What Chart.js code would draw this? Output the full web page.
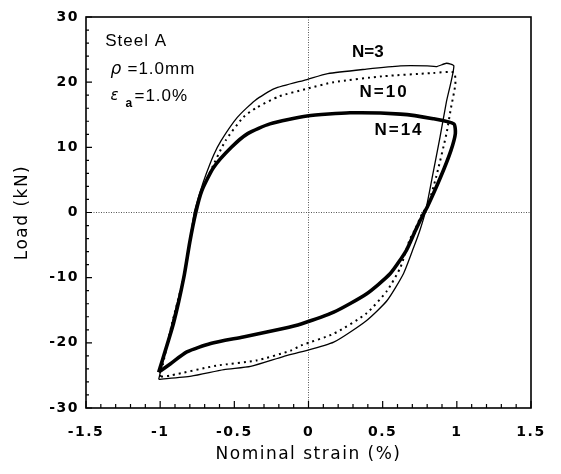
<!DOCTYPE html>
<html>
<head>
<meta charset="utf-8">
<script src="https://cdn.jsdelivr.net/npm/chart.js@4"></script>
<style>
  html, body { margin: 0; padding: 0; background: #fff; }
  #wrap { width: 561px; height: 474px; }
</style>
</head>
<body>
<div id="wrap"><canvas id="myChart"></canvas></div>
<script>
/* data: strain (%) and load (kN) along each loop */
const xTicks = [-1.5, -1, -0.5, 0, 0.5, 1, 1.5];
const yTicks = [-30, -20, -10, 0, 10, 20, 30];

const strainN3 = [-1.01, -0.92, -0.84, -0.80, -0.77, -0.73, -0.69, -0.64, -0.59, -0.48, -0.36, -0.23, -0.01, 0.13, 0.39, 0.62, 0.80, 0.865, 0.93, 0.98,
                  0.93, 0.886, 0.835, 0.79, 0.75, 0.71, 0.64, 0.53, 0.39, 0.17, -0.05, -0.17, -0.39, -0.57, -0.79, -1.01];
const loadN3   = [-25.6, -17, -9.8, -4.5, 0, 3.2, 5.9, 8.8, 11.0, 14.6, 17.2, 19.0, 20.4, 21.3, 22.0, 22.5, 22.5, 22.4, 22.9, 22.5,
                  17.0, 11.5, 5.5, 0.3, -2.8, -5.3, -9.4, -13.5, -16.6, -19.9, -21.4, -22.1, -23.6, -24.1, -25.1, -25.6];

const strainN10 = [-1.00, -0.92, -0.84, -0.80, -0.765, -0.72, -0.67, -0.56, -0.44, -0.35, -0.20, -0.01, 0.17, 0.50, 0.84, 0.98,
                   0.99, 0.96, 0.93, 0.86, 0.80, 0.77, 0.72, 0.68, 0.62, 0.53, 0.39, 0.17, -0.05, -0.12, -0.35, -0.62, -0.93, -1.00];
const loadN10   = [-25.2, -17, -9.8, -4.5, 0, 3.2, 5.9, 11.0, 14.6, 16.1, 17.8, 19.0, 20.0, 20.9, 21.4, 21.5,
                   19.7, 16.0, 12.1, 5.4, 0.8, 0, -2.5, -4.3, -8.4, -12.0, -15.5, -18.6, -20.4, -21.2, -22.7, -23.5, -25.0, -25.2];

const strainN14 = [-1.01, -0.91, -0.84, -0.80, -0.76, -0.72, -0.64, -0.52, -0.41, -0.26, -0.01, 0.28, 0.62, 0.84, 0.98,
                   0.99, 0.96, 0.89, 0.80, 0.78, 0.72, 0.66, 0.55, 0.39, 0.17, -0.05, -0.17, -0.44, -0.66, -0.82, -0.93, -1.01];
const loadN14   = [-24.5, -17, -9.9, -4.5, 0, 3.3, 6.9, 10.0, 12.1, 13.6, 14.8, 15.3, 15.1, 14.4, 13.6,
                   12.1, 9.5, 5.4, 0.8, 0, -2.8, -5.8, -9.4, -12.5, -15.3, -17.1, -17.8, -19.1, -20.1, -21.4, -23.2, -24.5];

function toPoints(xs, ys) {
    return xs.map((x, i) => ({ x: x, y: ys[i] }));
}

/* the old plot software spaces its letters out a little */
const spacingPlugin = {
    id: 'spacing',
    beforeDraw(chart) {
        chart.ctx.letterSpacing = '1.5px';
    }
};

/* frame, inward ticks, dotted zero lines and the text notes */
const framePlugin = {
    id: 'frame',
    beforeDatasetsDraw(chart) {
        const { ctx, chartArea: a, scales: { x, y } } = chart;
        ctx.save();
        ctx.strokeStyle = '#555';
        ctx.lineWidth = 1;
        ctx.setLineDash([1, 1.5]);
        ctx.beginPath();
        ctx.moveTo(x.getPixelForValue(0), a.top);
        ctx.lineTo(x.getPixelForValue(0), a.bottom);
        ctx.moveTo(a.left, y.getPixelForValue(0));
        ctx.lineTo(a.right, y.getPixelForValue(0));
        ctx.stroke();
        ctx.restore();
    },
    afterDatasetsDraw(chart) {
        const { ctx, chartArea: a, scales: { x, y } } = chart;
        ctx.save();
        ctx.strokeStyle = '#000';
        ctx.lineWidth = 1.6;
        ctx.strokeRect(a.left, a.top, a.right - a.left, a.bottom - a.top);
        ctx.lineWidth = 1.2;
        ctx.beginPath();
        for (let i = -15; i <= 15; i++) {
            const px = x.getPixelForValue(i / 10);
            const len = (i % 5 === 0) ? 7 : 4;
            ctx.moveTo(px, a.bottom);
            ctx.lineTo(px, a.bottom - len);
        }
        for (let v = -30; v <= 30; v += 2) {
            const py = y.getPixelForValue(v);
            const len = (v % 10 === 0) ? 6 : 3;
            ctx.moveTo(a.left, py);
            ctx.lineTo(a.left + len, py);
        }
        ctx.stroke();

        ctx.fillStyle = '#000';
        ctx.textBaseline = 'middle';
        ctx.textAlign = 'left';
        ctx.letterSpacing = '1px';
        ctx.font = '17px "Liberation Sans"';
        ctx.fillText('Steel A', x.getPixelForValue(-1.37), y.getPixelForValue(26.2));

        const px = x.getPixelForValue(-1.335);
        let py = y.getPixelForValue(21.9);
        ctx.letterSpacing = '0px';
        ctx.font = 'italic 17px "DejaVu Sans"';
        ctx.fillText('ρ', px, py);
        ctx.letterSpacing = '1px';
        ctx.font = '17px "Liberation Sans"';
        ctx.fillText('=1.0mm', px + 17, py);

        py = y.getPixelForValue(17.8);
        ctx.letterSpacing = '0px';
        ctx.font = 'italic 15px "DejaVu Sans"';
        ctx.fillText('ε', px, py);
        ctx.font = 'bold 12px "Liberation Sans"';
        ctx.fillText('a', px + 15, py + 7);
        ctx.letterSpacing = '1px';
        ctx.font = '17px "Liberation Sans"';
        ctx.fillText('=1.0%', px + 24, py);

        ctx.textAlign = 'center';
        ctx.font = 'bold 17px "Liberation Sans"';
        ctx.letterSpacing = '0px';
        ctx.fillText('N=3', x.getPixelForValue(0.40), y.getPixelForValue(24.6));
        ctx.letterSpacing = '2px';
        ctx.fillText('N=10', x.getPixelForValue(0.51), y.getPixelForValue(18.4));
        ctx.fillText('N=14', x.getPixelForValue(0.61), y.getPixelForValue(12.6));
        ctx.restore();
    }
};

const tickFont = { family: '"DejaVu Sans"', size: 14, weight: 'bold' };
const titleFont = { family: '"DejaVu Sans"', size: 17 };

new Chart(document.getElementById('myChart'), {
    type: 'scatter',
    data: {
        datasets: [{
            label: 'N=3',
            data: toPoints(strainN3, loadN3),
            showLine: true,
            borderColor: '#000',
            borderWidth: 1.3,
            pointRadius: 0,
            tension: 0.2
        }, {
            label: 'N=10',
            data: toPoints(strainN10, loadN10),
            showLine: true,
            borderColor: '#000',
            borderWidth: 2,
            borderDash: [2, 4],
            pointRadius: 0,
            tension: 0.2
        }, {
            label: 'N=14',
            data: toPoints(strainN14, loadN14),
            showLine: true,
            borderColor: '#000',
            borderWidth: 3.6,
            pointRadius: 0,
            tension: 0.2
        }]
    },
    options: {
        responsive: true,
        maintainAspectRatio: false,
        animation: false,
        layout: { padding: { top: 17, right: 30, left: 0, bottom: 0 } },
        plugins: {
            legend: { display: false },
            tooltip: { enabled: false }
        },
        scales: {
            x: {
                type: 'linear',
                min: -1.5,
                max: 1.5,
                afterBuildTicks: s => { s.ticks = xTicks.map(v => ({ value: v })); },
                afterFit: s => { s.height = 66; },
                grid: { display: false, drawTicks: false },
                border: { display: false },
                ticks: {
                    color: '#000',
                    font: tickFont,
                    padding: 16,
                    maxRotation: 0,
                    callback: v => String(v)
                },
                title: {
                    display: true,
                    text: 'Nominal strain (%)',
                    color: '#000',
                    font: titleFont,
                    padding: { top: 0, bottom: 9 }
                }
            },
            y: {
                type: 'linear',
                min: -30,
                max: 30,
                afterBuildTicks: s => { s.ticks = yTicks.map(v => ({ value: v })); },
                afterFit: s => { s.width = 86; },
                grid: { display: false, drawTicks: false },
                border: { display: false },
                ticks: {
                    color: '#000',
                    font: tickFont,
                    padding: 7,
                    callback: v => String(v)
                },
                title: {
                    display: true,
                    text: 'Load (kN)',
                    color: '#000',
                    font: titleFont,
                    padding: { top: 12, bottom: 0 }
                }
            }
        }
    },
    plugins: [spacingPlugin, framePlugin]
});
</script>
</body>
</html>
